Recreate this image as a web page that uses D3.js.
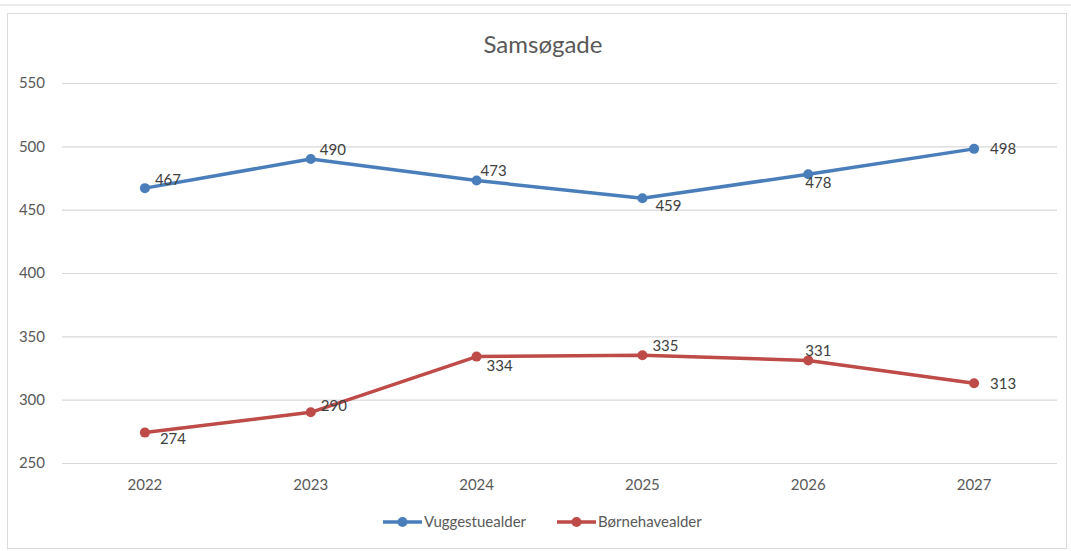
<!doctype html>
<html lang="en">
  <head>
    <meta charset="utf-8">
    <title>Samsøgade</title>
    <script src="https://cdn.jsdelivr.net/npm/d3@7"></script>
    <style>
      body { margin: 0; background: #fff; }
      text { font-family: Lato, "Open Sans", sans-serif; fill: #595959; }
    </style>
  </head>
  <body>
    <script>

      var years = ["2022", "2023", "2024", "2025", "2026", "2027"];
      var vuggestue = [467, 490, 473, 459, 478, 498];
      var boernehave = [274, 290, 334, 335, 331, 313];
      var yTicks = [250, 300, 350, 400, 450, 500, 550];

      // label offsets relative to the point (style only)
      var vugOff = [[10, -8], [9, -9], [4, -10], [13, 7], [-3, 9], [16, 0]];
      var boeOff = [[15, 6], [10, -7], [10, 9], [10, -10], [-3, -10], [16, 1]];

      var W = 1071, H = 551;
      var margin = {top: 83, left: 62, right: 14, bottom: 88};

      var svg = d3.select("body").append("svg")
          .attr("width", W)
          .attr("height", H);

      // frames
      svg.append("rect").attr("x", -2).attr("y", -20).attr("width", W + 4).attr("height", 25)
          .attr("fill", "none").attr("stroke", "#d9d9d9");
      svg.append("rect").attr("x", 7.5).attr("y", 13.5).attr("width", W - 12).attr("height", 535)
          .attr("fill", "#fff").attr("stroke", "#d9d9d9");

      var x = d3.scaleBand().domain(years).range([margin.left, W - margin.right]);
      var y = d3.scaleLinear().domain([250, 550]).range([H - margin.bottom, margin.top]);

      svg.append("text")
          .attr("x", 543).attr("y", 53)
          .attr("text-anchor", "middle")
          .style("font-size", "24px")
          .text("Samsøgade");

      var yAxis = svg.append("g")
          .attr("transform", "translate(" + margin.left + ",0)")
          .call(d3.axisLeft(y).tickValues(yTicks).tickSize(-(W - margin.left - margin.right)).tickPadding(17));
      yAxis.select(".domain").remove();
      yAxis.selectAll("line").attr("stroke", "#d9d9d9").attr("stroke-width", 1.2);
      yAxis.selectAll("text").style("font-size", "15px").style("font-family", "Lato, sans-serif").attr("fill", "#595959");

      var xAxis = svg.append("g")
          .attr("transform", "translate(0," + y(250) + ")")
          .call(d3.axisBottom(x).tickSize(0).tickPadding(16));
      xAxis.select(".domain").remove();
      xAxis.selectAll("text").style("font-size", "15px").style("font-family", "Lato, sans-serif").attr("fill", "#595959");

      var line = d3.line()
          .x(function(d, i){ return x(years[i]) + x.bandwidth() / 2; })
          .y(function(d){ return y(d); });

      function drawSeries(values, color, offs){
        var g = svg.append("g");
        g.append("path")
            .datum(values)
            .attr("d", line)
            .attr("fill", "none")
            .attr("stroke", color)
            .attr("stroke-width", 3.5)
            .attr("stroke-linejoin", "round");
        g.selectAll("circle").data(values).enter().append("circle")
            .attr("cx", function(d, i){ return x(years[i]) + x.bandwidth() / 2; })
            .attr("cy", function(d){ return y(d); })
            .attr("r", 5)
            .attr("fill", color);
        g.selectAll("text").data(values).enter().append("text")
            .attr("x", function(d, i){ return x(years[i]) + x.bandwidth() / 2 + offs[i][0]; })
            .attr("y", function(d, i){ return y(d) + offs[i][1]; })
            .attr("dy", "0.35em")
            .style("font-size", "15px")
            .style("fill", "#404040")
            .text(String);
      }

      drawSeries(vuggestue, "#4a7ebb", vugOff);
      drawSeries(boernehave, "#be4b48", boeOff);

      // legend
      var legend = [["Vuggestuealder", "#4a7ebb", 383], ["Børnehavealder", "#be4b48", 557]];
      legend.forEach(function(l){
        var g = svg.append("g").attr("transform", "translate(" + l[2] + ",522)");
        g.append("line").attr("x1", 0).attr("x2", 39).attr("stroke", l[1]).attr("stroke-width", 3.5);
        g.append("circle").attr("cx", 19.5).attr("r", 5).attr("fill", l[1]);
        g.append("text").attr("x", 41).attr("dy", "0.35em").style("font-size", "15px").text(l[0]);
      });

    </script>
  </body>
</html>
